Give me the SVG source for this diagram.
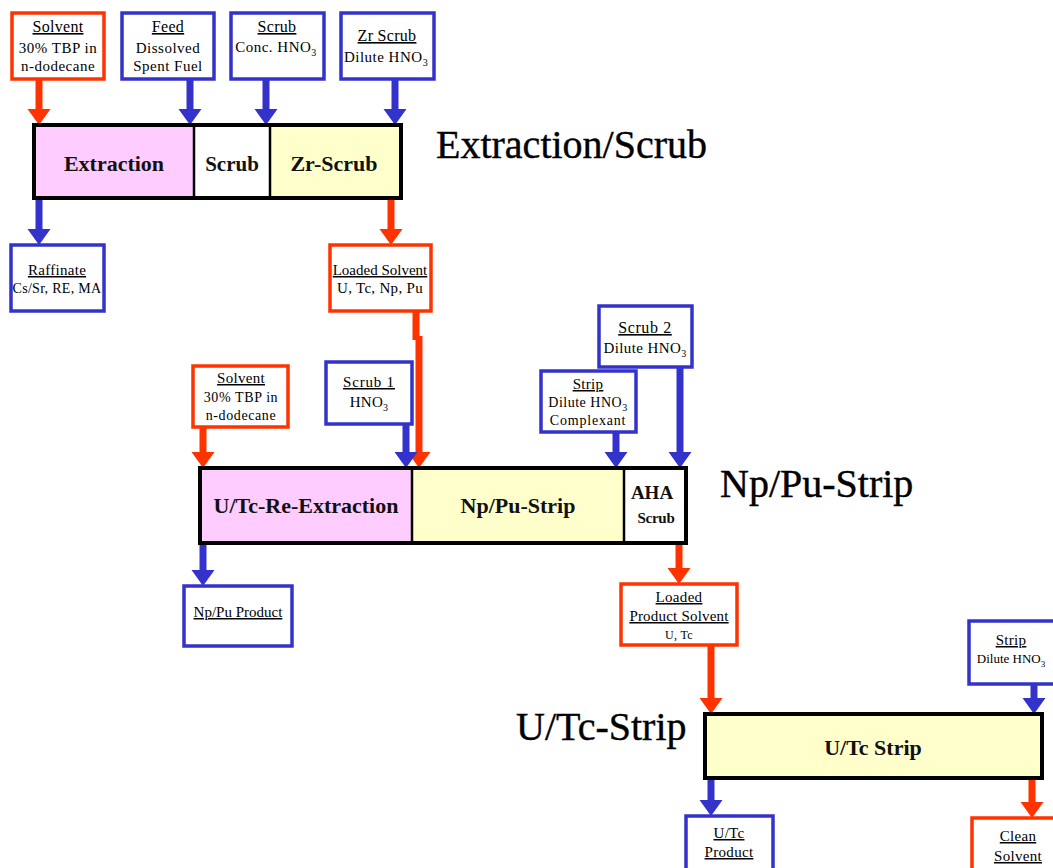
<svg xmlns="http://www.w3.org/2000/svg" width="1053" height="868" viewBox="0 0 1053 868">
<style>
.bg{fill:#fff}
.in-r{fill:#fff;stroke:#FF3300;stroke-width:3.5}
.in-b{fill:#fff;stroke:#3333CC;stroke-width:3.5}
.unit{stroke:#000;stroke-width:4}
.div{stroke:#000;stroke-width:2.5}
.pink{fill:#FFCCFF}
.yel{fill:#FFFFCC}
.wht{fill:#fff}
.lbl{font-family:"Liberation Serif",serif;font-size:14px;fill:#000;text-anchor:middle;letter-spacing:0.3px}
.lh{font-family:"Liberation Serif",serif;font-size:15px;fill:#000;text-anchor:middle;text-decoration:underline;letter-spacing:0.3px}
.ub{font-family:"Liberation Serif",serif;font-weight:bold;font-size:22px;fill:#111;text-anchor:middle}
.title{font-family:"Liberation Serif",serif;font-size:40px;fill:#000;stroke:#000;stroke-width:0.4}
.cr{fill:none;stroke:#FF3300;stroke-width:7}
.cb{fill:none;stroke:#3333CC;stroke-width:7}
</style>
<defs>
<marker id="ar" markerUnits="userSpaceOnUse" markerWidth="17" markerHeight="24" viewBox="0 -12 17 24" refX="4" refY="0" orient="auto"><path d="M0,-11.5 L16,0 L0,11.5 z" fill="#FF3300"/></marker>
<marker id="ab" markerUnits="userSpaceOnUse" markerWidth="17" markerHeight="24" viewBox="0 -12 17 24" refX="4" refY="0" orient="auto"><path d="M0,-11.5 L16,0 L0,11.5 z" fill="#3333CC"/></marker>
</defs>
<rect class="bg" x="0" y="0" width="1053" height="868"/>

<g id="connectors">
<path class="cr" d="M39,79 V113" marker-end="url(#ar)"/>
<path class="cb" d="M190,79 V113" marker-end="url(#ab)"/>
<path class="cb" d="M266,79 V113" marker-end="url(#ab)"/>
<path class="cb" d="M395,79 V113" marker-end="url(#ab)"/>
<path class="cb" d="M39,198 V233" marker-end="url(#ab)"/>
<path class="cr" d="M391,198 V233" marker-end="url(#ar)"/>
<path class="cr" d="M416,311 V340"/>
<path class="cr" d="M419,336 V456" marker-end="url(#ar)"/>
<path class="cr" d="M203,427 V456" marker-end="url(#ar)"/>
<path class="cb" d="M406,424 V456" marker-end="url(#ab)"/>
<path class="cb" d="M616,432 V456" marker-end="url(#ab)"/>
<path class="cb" d="M680,367 V456" marker-end="url(#ab)"/>
<path class="cb" d="M203,543 V574" marker-end="url(#ab)"/>
<path class="cr" d="M679,543 V572" marker-end="url(#ar)"/>
<path class="cr" d="M711,645 V702" marker-end="url(#ar)"/>
<path class="cb" d="M1034,684 V702" marker-end="url(#ab)"/>
<path class="cb" d="M711,778 V804" marker-end="url(#ab)"/>
<path class="cr" d="M1032,778 V806" marker-end="url(#ar)"/>
</g>

<g id="solvent1">
<rect class="in-r" x="12" y="13" width="92" height="66"/>
<text class="lh" x="58" y="32" style="font-size:16px">Solvent</text>
<text class="lbl" x="58" y="53" style="font-size:15px;letter-spacing:0.5px">30% TBP in</text>
<text class="lbl" x="58" y="71" style="font-size:15px;letter-spacing:0.5px">n-dodecane</text>
</g>
<g id="feed">
<rect class="in-b" x="122" y="13" width="92" height="66"/>
<text class="lh" x="168" y="32" style="font-size:16px">Feed</text>
<text class="lbl" x="168" y="53" style="font-size:15px;letter-spacing:0.5px">Dissolved</text>
<text class="lbl" x="168" y="71" style="font-size:15px;letter-spacing:0.5px">Spent Fuel</text>
</g>
<g id="scrub-in">
<rect class="in-b" x="231" y="13" width="93" height="66"/>
<text class="lh" x="277" y="32" style="font-size:16px">Scrub</text>
<text class="lbl" x="276" y="52" style="font-size:15px;letter-spacing:0.5px">Conc. HNO<tspan style="font-size:10px" dy="4">3</tspan></text>
</g>
<g id="zrscrub-in">
<rect class="in-b" x="341" y="13" width="93" height="66"/>
<text class="lh" x="387" y="41" style="font-size:16px">Zr Scrub</text>
<text class="lbl" x="386" y="62" style="font-size:15px;letter-spacing:0.5px">Dilute HNO<tspan style="font-size:10px" dy="4">3</tspan></text>
</g>

<g id="extraction-unit">
<rect class="pink" x="34" y="125" width="160" height="73"/>
<rect class="wht" x="194" y="125" width="76" height="73"/>
<rect class="yel" x="270" y="125" width="131" height="73"/>
<line class="div" x1="194" y1="125" x2="194" y2="198"/>
<line class="div" x1="270" y1="125" x2="270" y2="198"/>
<rect class="unit" x="34" y="125" width="367" height="73" fill="none"/>
<text class="ub" x="114" y="171">Extraction</text>
<text class="ub" x="232" y="171" style="font-size:21px">Scrub</text>
<text class="ub" x="334" y="171">Zr-Scrub</text>
</g>
<text class="title" x="436" y="158">Extraction/Scrub</text>

<g id="raffinate">
<rect class="in-b" x="11" y="245" width="93" height="66"/>
<text class="lh" x="57" y="275" style="font-size:15px">Raffinate</text>
<text class="lbl" x="57" y="293">Cs/Sr, RE, MA</text>
</g>
<g id="loaded-solvent">
<rect class="in-r" x="330" y="245" width="101" height="66"/>
<text class="lh" x="380" y="275" style="font-size:15px;letter-spacing:0">Loaded Solvent</text>
<text class="lbl" x="380" y="293" style="font-size:15px">U, Tc, Np, Pu</text>
</g>

<g id="solvent2">
<rect class="in-r" x="193" y="366" width="95" height="61"/>
<text class="lh" x="241" y="383">Solvent</text>
<text class="lbl" x="241" y="402" style="letter-spacing:0.6px">30% TBP in</text>
<text class="lbl" x="241" y="420" style="letter-spacing:0.6px">n-dodecane</text>
</g>
<g id="scrub1">
<rect class="in-b" x="326" y="362" width="86" height="62"/>
<text class="lh" x="369" y="387" style="letter-spacing:0.8px">Scrub 1</text>
<text class="lbl" x="369" y="407" style="font-size:15px">HNO<tspan style="font-size:10px" dy="4">3</tspan></text>
</g>
<g id="strip1">
<rect class="in-b" x="541" y="371" width="95" height="61"/>
<text class="lh" x="588" y="389">Strip</text>
<text class="lbl" x="588" y="407" style="letter-spacing:0.5px">Dilute HNO<tspan style="font-size:10px" dy="4">3</tspan></text>
<text class="lbl" x="588" y="425" style="letter-spacing:0.8px">Complexant</text>
</g>
<g id="scrub2">
<rect class="in-b" x="599" y="306" width="93" height="61"/>
<text class="lh" x="645" y="333" style="font-size:16px;letter-spacing:0.6px">Scrub 2</text>
<text class="lbl" x="645" y="353" style="font-size:15px;letter-spacing:0.4px">Dilute HNO<tspan style="font-size:10px" dy="4">3</tspan></text>
</g>

<g id="nppu-unit">
<rect class="pink" x="200" y="468" width="212" height="75"/>
<rect class="yel" x="412" y="468" width="212" height="75"/>
<rect class="wht" x="624" y="468" width="62" height="75"/>
<line class="div" x1="412" y1="468" x2="412" y2="543"/>
<line class="div" x1="624" y1="468" x2="624" y2="543"/>
<rect class="unit" x="200" y="468" width="486" height="75" fill="none"/>
<text class="ub" x="306" y="513">U/Tc-Re-Extraction</text>
<text class="ub" x="518" y="513">Np/Pu-Strip</text>
<text class="ub" x="652" y="499" style="font-size:19px">AHA</text>
<text class="ub" x="656" y="523" style="font-size:15px;letter-spacing:-0.3px">Scrub</text>
</g>
<text class="title" x="720" y="497">Np/Pu-Strip</text>

<g id="nppu-product">
<rect class="in-b" x="184" y="586" width="108" height="60"/>
<text class="lh" x="238" y="617" style="font-size:15px;letter-spacing:0">Np/Pu Product</text>
</g>
<g id="loaded-product-solvent">
<rect class="in-r" x="621" y="584" width="116" height="61"/>
<text class="lh" x="679" y="602" style="font-size:15px">Loaded</text>
<text class="lh" x="679" y="621" style="font-size:15px;letter-spacing:0.2px">Product Solvent</text>
<text class="lbl" x="679" y="639" style="font-size:12px">U, Tc</text>
</g>

<g id="utc-unit">
<rect class="yel unit" x="705" y="714" width="337" height="64"/>
<text class="ub" x="873" y="755">U/Tc Strip</text>
</g>
<text class="title" x="516" y="740">U/Tc-Strip</text>

<g id="strip2">
<rect class="in-b" x="969" y="621" width="100" height="63"/>
<text class="lh" x="1011" y="645" style="font-size:15px">Strip</text>
<text class="lbl" x="1011" y="663" style="font-size:13px;letter-spacing:0">Dilute HNO<tspan style="font-size:9px" dy="4">3</tspan></text>
</g>
<g id="utc-product">
<rect class="in-b" x="686" y="816" width="87" height="64"/>
<text class="lh" x="729" y="838">U/Tc</text>
<text class="lh" x="729" y="857">Product</text>
</g>
<g id="clean-solvent">
<rect class="in-r" x="972" y="818" width="95" height="64"/>
<text class="lh" x="1018" y="841">Clean</text>
<text class="lh" x="1018" y="861">Solvent</text>
</g>
</svg>
